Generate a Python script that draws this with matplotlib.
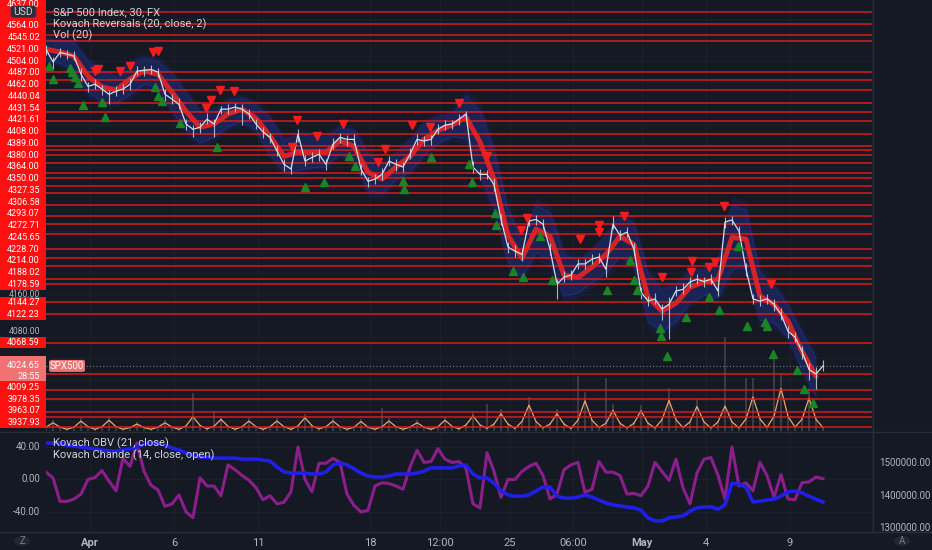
import numpy as np
import matplotlib
matplotlib.use('Agg')
import matplotlib.pyplot as plt
from matplotlib.patches import Rectangle, FancyBboxPatch, Circle
from matplotlib.lines import Line2D

plt.rcParams['font.family'] = ['Roboto', 'DejaVu Sans']

# ---------------- data ----------------
symbol_title = 'S&P 500 Index, 30, FX'
main_titles = ['Kovach Reversals (20, close, 2)', 'Vol (20)']
low_titles = ['Kovach OBV (21, close)', 'Kovach Chande (14, close, open)']

first_day = -1.571      # trading-day offset of first sample (1 Apr = 0)
sample_step = 0.25      # days between samples
ma_step = 0.5           # days between smoothed-line samples

price = [4622, 4598, 4616, 4613, 4609, 4575, 4552, 4556, 4547, 4537,
         4543, 4547, 4556, 4581, 4582, 4584, 4579, 4537, 4528, 4518,
         4481, 4471, 4475, 4490, 4481, 4509, 4509, 4513, 4509, 4500,
         4481, 4466, 4456, 4430, 4405, 4396, 4462, 4411, 4418, 4424,
         4405, 4443, 4456, 4452, 4452, 4396, 4373, 4377, 4386, 4411,
         4405, 4400, 4424, 4452, 4449, 4452, 4471, 4479, 4481, 4490,
         4500, 4400, 4386, 4386, 4367, 4301, 4249, 4241, 4235, 4298,
         4301, 4292, 4245, 4179, 4192, 4196, 4217, 4217, 4226, 4230,
         4207, 4292, 4271, 4277, 4245, 4164, 4147, 4151, 4132, 4141,
         4166, 4169, 4183, 4188, 4184, 4188, 4166, 4296, 4300, 4279,
         4207, 4151, 4147, 4151, 4141, 4122, 4090, 4079, 4052, 4018,
         4009, 4024.65]

wick_up = [8, 10, 9, 8, 10, 12, 9, 10, 8, 9,
           9, 10, 12, 10, 8, 9, 8, 10, 9, 12,
           10, 9, 10, 12, 10, 6, 9, 8, 10, 9,
           10, 9, 8, 12, 10, 9, 10, 12, 10, 9,
           10, 12, 9, 8, 10, 9, 8, 10, 12, 9,
           10, 9, 12, 10, 9, 8, 10, 9, 8, 9,
           5, 12, 10, 9, 12, 10, 9, 12, 10, 9,
           8, 10, 12, 10, 12, 10, 9, 10, 9, 8,
           12, 15, 10, 9, 12, 10, 9, 12, 10, 14,
           10, 12, 9, 10, 9, 10, 12, 10, 8, 10,
           12, 10, 12, 9, 10, 12, 10, 9, 10, 12,
           14, 12]

wick_down = [10, 14, 9, 10, 8, 12, 10, 9, 12, 19,
             10, 9, 10, 8, 10, 9, 10, 12, 10, 9,
             12, 14, 10, 9, 24, 10, 9, 10, 29, 10,
             9, 12, 10, 10, 12, 10, 14, 10, 9, 12,
             10, 9, 10, 12, 10, 12, 10, 9, 10, 9,
             12, 10, 9, 10, 9, 10, 9, 10, 9, 10,
             10, 12, 10, 9, 12, 10, 12, 10, 12, 10,
             10, 9, 12, 29, 10, 9, 10, 9, 10, 12,
             14, 10, 9, 10, 12, 14, 10, 9, 20, 66,
             10, 9, 10, 9, 10, 9, 10, 12, 10, 9,
             12, 10, 9, 10, 12, 10, 12, 10, 14, 20,
             28, 10]

kovach_ma = [4622, 4617, 4609, 4571, 4551, 4545, 4566, 4581, 4575, 4541,
             4505, 4475, 4481, 4500, 4509, 4492, 4458, 4420, 4428, 4428,
             4428, 4449, 4439, 4390, 4377, 4400, 4420, 4452, 4469, 4479,
             4494, 4447, 4377, 4271, 4228, 4283, 4269, 4196, 4192, 4211,
             4235, 4269, 4254, 4154, 4128, 4143, 4173, 4183, 4188, 4267,
             4264, 4156, 4141, 4109, 4052, 4005]

band_half = [20, 22, 25, 30, 28, 25, 30, 25, 25, 35,
             35, 30, 25, 25, 22, 25, 35, 30, 35, 30,
             28, 25, 30, 35, 28, 25, 30, 30, 25, 22,
             40, 60, 55, 50, 35, 45, 45, 40, 30, 30,
             35, 40, 40, 45, 40, 35, 30, 25, 35, 60,
             55, 45, 35, 30, 35, 35]

levels = [4692.40, 4669.20, 4649.50, 4637.00, 4579.75, 4564.00, 4545.02, 4521.00,
          4504.00, 4487.00, 4462.00, 4440.04, 4431.54, 4421.61, 4408.00, 4389.00,
          4380.00, 4364.00, 4350.00, 4327.35, 4306.58, 4293.07, 4272.71, 4245.65,
          4228.70, 4214.00, 4188.02, 4178.59, 4144.27, 4122.23, 4068.59, 4009.25,
          3978.35, 3963.07, 3937.93, 3928.20, 3910.00]

last_price = 4024.65
countdown = '28:55'
ticker = 'SPX500'

sell_days = [0.18, 0.29, 1.07, 1.43, 2.25, 2.43, 4.14, 4.32, 4.64, 5.14, 7.21, 7.39,
             8.11, 9.04, 10.29, 10.54, 11.5, 12.14, 13.18, 14.18, 15.39, 15.61, 17.5,
             18.18, 18.18, 19.07, 20.43, 21.46, 21.5, 22.11, 22.32, 22.64, 24.32]
sell_prices = [4581, 4584, 4581, 4590, 4616, 4618, 4511, 4526, 4545, 4543, 4437, 4488,
               4458, 4481, 4409, 4433, 4479, 4475, 4520, 4420, 4281, 4303, 4264,
               4290, 4277, 4307, 4192, 4201, 4222, 4211, 4220, 4326, 4179]

buy_days = [-1.46, -1.32, -0.71, -0.64, -0.54, -0.43, -0.25, 0.43, 0.54, 2.32,
            2.43, 2.57, 3.21, 4.54, 7.68, 8.36, 9.25, 9.46, 11.18, 11.21,
            12.18, 13.54, 13.64, 14.46, 14.5, 15.11, 15.46, 16.07, 16.5, 18.46,
            19.29, 19.43, 19.54, 20.36, 20.39, 20.61, 21.29, 22.11, 22.46, 23.14,
            23.46, 24.11, 24.18, 24.39, 25.25, 25.5, 25.82]
buy_prices = [4590, 4566, 4586, 4579, 4569, 4558, 4517, 4522, 4494, 4551,
              4534, 4524, 4483, 4437, 4362, 4371, 4420, 4401, 4373, 4358,
              4418, 4405, 4371, 4313, 4290, 4203, 4192, 4269, 4186, 4167,
              4224, 4186, 4167, 4096, 4081, 4043, 4117, 4154, 4130, 4251,
              4100, 4107, 4100, 4047, 4017, 3981, 3954]

volume = [1.0, 2.6, 1.0, 0.6, 1.0, 3.0, 1.1, 0.6, 1.1, 3.3, 1.1, 0.6,
          0.9, 2.2, 0.9, 0.6, 1.0, 2.6, 1.0, 0.6, 1.3, 8.8, 1.4, 0.7,
          4.6, 3.4, 1.2, 0.6, 1.1, 3.0, 1.1, 0.6, 1.1, 3.0, 1.1, 0.6,
          1.3, 4.0, 1.3, 0.7, 1.1, 3.0, 1.1, 0.6, 1.0, 2.8, 1.0, 0.6,
          5.4, 3.0, 1.1, 0.6, 1.0, 2.6, 1.0, 0.6, 1.1, 3.3, 1.2, 0.7,
          1.5, 4.6, 1.5, 6.2, 1.8, 5.2, 1.8, 0.8, 2.4, 8.0, 2.4, 0.9,
          1.8, 5.2, 1.8, 0.8, 12.8, 9.1, 2.8, 1.0, 12.3, 6.2, 2.0, 0.9,
          2.0, 6.1, 2.0, 0.9, 2.9, 10.0, 2.9, 1.0, 2.3, 7.4, 2.3, 0.9,
          2.3, 21.9, 2.3, 0.9, 12.3, 12.3, 3.1, 1.0, 18.6, 12.9, 3.7, 1.1,
          3.0, 9.9, 3.0, 1.0]

volume_ma = [0.9, 1.9, 0.9, 0.4, 0.9, 2.3, 1.0, 0.4, 1.0, 2.5, 1.0, 0.4,
             0.8, 1.6, 0.8, 0.4, 0.9, 1.9, 0.9, 0.4, 1.2, 3.3, 1.3, 0.5,
             1.1, 2.7, 1.1, 0.4, 1.0, 2.3, 1.0, 0.4, 1.0, 2.3, 1.0, 0.4,
             1.2, 3.1, 1.2, 0.5, 1.0, 2.3, 1.0, 0.4, 0.9, 2.2, 0.9, 0.4,
             1.0, 2.3, 1.0, 0.4, 0.9, 1.9, 0.9, 0.4, 1.0, 2.5, 1.1, 0.5,
             1.4, 3.5, 1.4, 0.6, 1.6, 4.0, 1.6, 0.6, 2.2, 6.0, 2.2, 0.7,
             1.6, 4.0, 1.6, 0.6, 2.5, 7.0, 2.5, 0.8, 1.8, 4.8, 1.8, 0.7,
             1.8, 4.7, 1.8, 0.7, 2.6, 7.1, 2.6, 0.8, 2.1, 5.7, 2.1, 0.7,
             2.1, 5.8, 2.1, 0.7, 2.8, 7.9, 2.8, 0.8, 3.4, 9.9, 3.4, 0.9,
             2.7, 7.6, 2.7, 0.8]

chande = [9, 2, -27, -27, -24, -18, 0, 2.5, 11, -2,
          -14, 26, 16, 45, 10, -7, -13, -33, -30, -19,
          -40, -47, 2, -8, -8, -20, 18, 12, 5, -1,
          -10, -25, -20, -30, -28, -15, 40, 0, -15, 20,
          20, 26, 21, -18, -32, -40, -38, -8, -4, -5,
          -8, -12, 15, 36, 21, 22, 38, 25, 21, 22,
          14, -30, -35, 33, 10, -22, 0, 0, 10, 16,
          20, 5, -24, -18, 12, 18, 21, -16, -12, 22,
          9, 9, 5, -18, -17, -20, -8, 21, 10, -1,
          25, -10, -30, 8, 25, 27, 5, -24, 40, -8,
          -4, -14, 21, 5, -22, 6, -24, -25, -4, -3,
          3, 1]

obv_millions = [1.5615, 1.5615, 1.5615, 1.555, 1.552, 1.549, 1.546, 1.543, 1.540, 1.537,
                1.537, 1.540, 1.543, 1.549, 1.558, 1.5615, 1.5615, 1.555, 1.546, 1.540,
                1.531, 1.525, 1.518, 1.518, 1.515, 1.515, 1.515, 1.515, 1.512, 1.512,
                1.512, 1.509, 1.506, 1.488, 1.472, 1.469, 1.469, 1.469, 1.466, 1.466,
                1.472, 1.494, 1.500, 1.494, 1.482, 1.469, 1.460, 1.457, 1.457, 1.460,
                1.466, 1.466, 1.466, 1.469, 1.475, 1.485, 1.485, 1.485, 1.485, 1.491,
                1.494, 1.466, 1.454, 1.454, 1.438, 1.414, 1.402, 1.398, 1.398, 1.402,
                1.414, 1.426, 1.426, 1.398, 1.392, 1.392, 1.395, 1.402, 1.395, 1.386,
                1.377, 1.371, 1.368, 1.365, 1.362, 1.355, 1.331, 1.322, 1.322, 1.331,
                1.334, 1.337, 1.352, 1.362, 1.365, 1.365, 1.358, 1.371, 1.438, 1.435,
                1.426, 1.380, 1.383, 1.386, 1.389, 1.398, 1.411, 1.414, 1.408, 1.398,
                1.389, 1.380]

tick_days = [0, 3, 6, 10, 12.5, 15, 17.25, 19.7, 22, 25]
tick_labels = ['Apr', '6', '11', '18', '12:00', '25', '06:00', 'May', '4', '9']
month_labels = ['Apr', 'May']

chande_ticks = [40, 0, -40]
obv_ticks_millions = [1.5, 1.4, 1.3]

# ---------------- style / layout ----------------
W, H = 932, 550
BG = '#151924'
TXT = '#d1d4dc'
AXT = '#b2b5be'
GRID = '#1c202d'
SEP = '#2a2e39'
LEVEL_RED = '#e31b1b'
LABEL_RED = '#ff0f0f'
LAB_FS = 6.5

L, R = 46, 872
MAIN_T, MAIN_B = 0, 431
LOW_T, LOW_B = 433, 531
X0, X1 = -1.571, 27.93
P_TOP, P_BOT = 4715.0, 3901.8
V_MAX = 100.0
C_TOP, C_BOT = 57.2, -63.4
O_TOP, O_BOT = 1.5923, 1.2908

fig = plt.figure(figsize=(W / 100, H / 100), dpi=100, facecolor=BG)


def fx(x):
    return x / W


def fy(y):
    return 1 - y / H


axv = fig.add_axes([fx(L), fy(MAIN_B), (R - L) / W, (MAIN_B - MAIN_T) / H])
ax = fig.add_axes([fx(L), fy(MAIN_B), (R - L) / W, (MAIN_B - MAIN_T) / H])
axl = fig.add_axes([fx(L), fy(LOW_B), (R - L) / W, (LOW_B - LOW_T) / H])
axo = fig.add_axes([fx(L), fy(LOW_B), (R - L) / W, (LOW_B - LOW_T) / H])

for a in (axv, ax, axl, axo):
    a.set_xlim(X0, X1)
    for s in a.spines.values():
        s.set_visible(False)
    a.tick_params(left=False, right=False, bottom=False, top=False,
                  labelleft=False, labelright=False, labelbottom=False)
axv.set_facecolor(BG)
ax.patch.set_visible(False)
axl.set_facecolor(BG)
axo.patch.set_visible(False)

ax.set_ylim(P_BOT, P_TOP)
axv.set_ylim(0, V_MAX)
axl.set_ylim(C_BOT, C_TOP)
axo.set_ylim(O_BOT, O_TOP)

# grid
for d in tick_days:
    axv.axvline(d, color=GRID, lw=0.8, zorder=0)
    axl.axvline(d, color=GRID, lw=0.8, zorder=0)
for p in np.arange(3920, 4720, 40):
    axv.axhline((p - P_BOT) / (P_TOP - P_BOT) * V_MAX, color=GRID, lw=0.8, zorder=0)
for c in chande_ticks:
    axl.axhline(c, color=GRID, lw=0.8, zorder=0)

# volume
xs = first_day + sample_step * np.arange(len(price))
axv.bar(xs, volume, width=sample_step * 0.35, color='#5d606b', alpha=0.5, zorder=1, linewidth=0)
axv.plot(xs, volume_ma, color='#f0a46a', lw=0.9, zorder=2)

# price pane
xm = first_day + ma_step * np.arange(len(kovach_ma))
ma = np.array(kovach_ma, float)
hw = np.array(band_half, float)
ax.fill_between(xm, ma - hw * 1.3, ma + hw * 1.3, color='#1f2b80', alpha=0.22, lw=0, zorder=1)
ax.fill_between(xm, ma - hw, ma + hw, color='#223590', alpha=0.32, lw=0, zorder=1)
ax.plot(xm, ma + hw, color='#2b40d6', lw=1.2, alpha=0.22, zorder=1)
ax.plot(xm, ma - hw, color='#2b40d6', lw=1.2, alpha=0.22, zorder=1)

for lv in levels:
    ax.axhline(lv, color=LEVEL_RED, lw=1.1, alpha=0.95, zorder=2)
ax.axhline(last_price, color='#787b86', lw=0.8, ls=(0, (1, 2)), zorder=2)

ax.plot(xm, ma, color='#e52424', lw=3.6, alpha=0.9, zorder=3, solid_capstyle='round')
pr = np.array(price, float)
ax.vlines(xs, pr - np.array(wick_down), pr + np.array(wick_up), color='#b9c9d6',
          lw=0.8, alpha=0.9, zorder=4)
ax.plot(xs, price, color='#d4dce6', lw=0.9, zorder=4)
ax.plot(sell_days, sell_prices, ls='none', marker='v', ms=5.5, color='#f21d1d', zorder=5)
ax.plot(buy_days, buy_prices, ls='none', marker='^', ms=5.5, color='#1b8425', zorder=5)

# lower pane
axl.plot(xs, chande, color='#8a1f8c', lw=2.2, zorder=3)
axo.plot(xs, obv_millions, color='#1f1fe6', lw=2.6, zorder=2)

# x tick labels
axl.set_xticks(tick_days)
axl.set_xticklabels(tick_labels)
axl.tick_params(labelbottom=True, pad=1.5, labelsize=8, labelcolor=AXT)
for t in axl.get_xticklabels():
    if t.get_text() in month_labels:
        t.set_fontweight('bold')


def price_py(p):
    return H - ax.transData.transform((0, p))[1]


# stacked red labels (computed first, drawn later)
lab_h = 11.75
cur_py = price_py(last_price)
badge_top, badge_bot = cur_py - 10, cur_py + 15.5
usd_top, usd_bot = 6, 17.5
placed = []
prev = badge_top
for lv in sorted([l for l in levels if l > last_price]):
    y = min(price_py(lv), prev - lab_h / 2)
    prev = y - lab_h / 2
    if y + lab_h / 2 > -2:
        placed.append((y, lv))
prev = badge_bot
for lv in sorted([l for l in levels if l < last_price], reverse=True):
    y = max(price_py(lv), prev + lab_h / 2)
    prev = y + lab_h / 2
    if y + lab_h / 2 <= MAIN_B + 1:
        placed.append((y, lv))

# merge touching label boxes into covered spans
spans = sorted([(y - lab_h / 2, y + lab_h / 2) for y, _ in placed] + [(badge_top, badge_bot)])
covered = []
for b0, b1 in spans:
    if covered and b0 <= covered[-1][1] + 0.5:
        covered[-1][1] = max(covered[-1][1], b1)
    else:
        covered.append([b0, b1])

# gray axis ticks of the price scale, only where not hidden by label boxes;
# a tick just above a box is nudged up into the free gap
for p in np.arange(3920, 4720, 40):
    py = price_py(p)
    if not (4 < py < MAIN_B - 4):
        continue
    if any(b0 + 1.5 < py < b1 - 1.5 for b0, b1 in covered):
        continue
    ty = py
    for b0, b1 in covered:
        if b0 - 5 < py <= b0 + 1.5:
            above = [c1 for c0, c1 in covered if c1 <= b0]
            room_top = max(above) if above else 0
            if b0 - room_top >= 10:
                ty = b0 - 5
    fig.text(fx(40), fy(ty), f'{p:.2f}', ha='right', va='center', fontsize=6.2,
             color=AXT, zorder=1)

for y, lv in placed:
    fig.add_artist(Rectangle((0, fy(y + lab_h / 2)), fx(L), lab_h / H,
                             transform=fig.transFigure, facecolor=LABEL_RED,
                             edgecolor='none', zorder=5))
    if usd_top - 1 < y < usd_bot + 1:
        continue  # covered by the currency badge
    fig.text(fx(40), fy(max(y, 4.5)), f'{lv:.2f}', ha='right', va='center', fontsize=LAB_FS,
             color='white', zorder=6)

# current price badge
fig.add_artist(Rectangle((0, fy(badge_bot)), fx(L), (badge_bot - badge_top) / H,
                         transform=fig.transFigure, facecolor='#f07272',
                         edgecolor='none', zorder=5))
fig.text(fx(40), fy(cur_py), f'{last_price:.2f}', ha='right', va='center', fontsize=LAB_FS,
         color='white', zorder=6)
fig.text(fx(40), fy(cur_py + 10.5), countdown, ha='right', va='center', fontsize=LAB_FS,
         color='white', zorder=6)
fig.add_artist(FancyBboxPatch((fx(49), fy(cur_py + 6)), fx(36), 12 / H,
                              boxstyle='round,pad=0,rounding_size=0.003',
                              transform=fig.transFigure, facecolor='#f07272',
                              edgecolor='none', zorder=5))
fig.text(fx(67), fy(cur_py), ticker, ha='center', va='center', fontsize=7,
         color='white', zorder=6)

# USD badge
fig.add_artist(FancyBboxPatch((fx(11), fy(usd_bot)), fx(25), (usd_bot - usd_top) / H,
                              boxstyle='round,pad=0,rounding_size=0.004',
                              transform=fig.transFigure, facecolor='#2a2e39',
                              edgecolor='#3a3e4a', lw=0.6, zorder=7))
fig.text(fx(23.5), fy((usd_top + usd_bot) / 2), 'USD', ha='center', va='center',
         fontsize=7.5, color=TXT, zorder=8)

# legends
fig.text(fx(53), fy(12), symbol_title, ha='left', va='center', fontsize=8, color=TXT, zorder=8)
for i, t in enumerate(main_titles):
    fig.text(fx(53), fy(24 + 11.5 * i), t, ha='left', va='center', fontsize=8,
             color=TXT, zorder=8)
for i, t in enumerate(low_titles):
    fig.text(fx(53), fy(443 + 12 * i), t, ha='left', va='center', fontsize=8,
             color=TXT, zorder=8)

# lower pane scale labels
for c in chande_ticks:
    py = H - axl.transData.transform((0, c))[1]
    fig.text(fx(40), fy(py), f'{c:.2f}', ha='right', va='center', fontsize=7,
             color=AXT, zorder=6)
for o in obv_ticks_millions:
    py = H - axo.transData.transform((0, o))[1]
    fig.text(fx(879), fy(py), f'{o * 1e6:.2f}', ha='left', va='center', fontsize=7,
             color=AXT, zorder=6)

# separators
fig.add_artist(Line2D([0, 1], [fy(432), fy(432)], color=SEP, lw=1.0, transform=fig.transFigure))
fig.add_artist(Line2D([0, 1], [fy(531.5), fy(531.5)], color=SEP, lw=1.0, transform=fig.transFigure))
fig.add_artist(Line2D([fx(872.5), fx(872.5)], [fy(0), fy(531.5)], color=SEP, lw=1.0,
                      transform=fig.transFigure))

# corner buttons
for cx, s in ((22, 'Z'), (902, 'A')):
    fig.add_artist(Circle((fx(cx), fy(541)), 8 / W, transform=fig.transFigure,
                          facecolor='#232733', edgecolor='none', zorder=5))
    fig.text(fx(cx), fy(541), s, ha='center', va='center', fontsize=7, color='#787b86', zorder=6)

fig.savefig('out.png', dpi=100, facecolor=BG)
